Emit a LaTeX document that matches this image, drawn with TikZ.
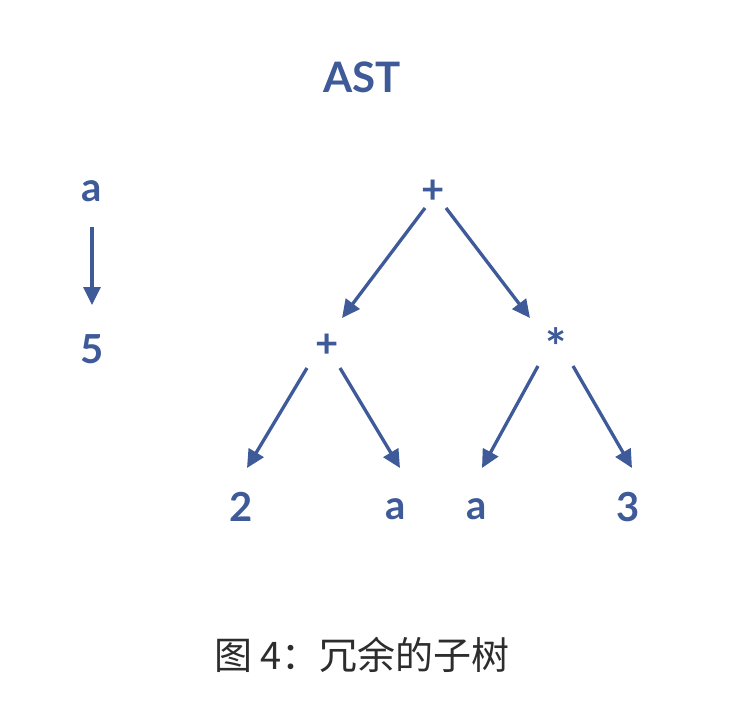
\documentclass[tikz,border=0pt]{standalone}
\usepackage{fontspec}
\setmainfont{Lato}
\newfontfamily\cjk{Noto Sans CJK SC}
\usetikzlibrary{arrows.meta,calc}
\definecolor{inkblue}{RGB}{62,90,152}
\definecolor{captiongray}{RGB}{45,45,45}
\tikzset{
  lbl/.style={text=inkblue,font=\bfseries\fontsize{40}{44}\selectfont,inner sep=0pt},
  arr/.style={draw=inkblue,line width=3.3pt,-{Triangle[length=18pt,width=17pt]}},
}
\begin{document}
\begin{tikzpicture}[x=1pt,y=-1pt]
\useasboundingbox[fill=white] (0,0) rectangle (733,702);
\node[lbl,font=\bfseries\fontsize{42}{46}\selectfont] (title) at (362,77) {AST};
\node[lbl] (va) at (92,191) {a};
\node[lbl] (v5) at (92,349) {5};
\node[lbl] (root) at (433,192) {+};
\node[lbl] (lp) at (327,346) {+};
\node[lbl,font=\bfseries\fontsize{50}{54}\selectfont] (st) at (556,347) {*};
\node[lbl] (n2) at (241,507) {2};
\node[lbl] (la) at (396,509) {a};
\node[lbl] (ra) at (477,509) {a};
\node[lbl] (n3) at (628,507) {3};
\node[text=captiongray,font=\cjk\fontsize{38}{42}\selectfont,inner sep=0pt] (cap) at (362,655) {图 4：冗余的子树};
\draw[arr] ([shift={(0,36)}]va.center) -- ([shift={(0,-44)}]v5.center);
\draw[arr] ([shift={(-8,16)}]root.center) -- ([shift={(15,-28)}]lp.center);
\draw[arr] ([shift={(13,16)}]root.center) -- ([shift={(-26,-29)}]st.center);
\draw[arr] ([shift={(-20,22)}]lp.center) -- ([shift={(6,-39)}]n2.center);
\draw[arr] ([shift={(13,22)}]lp.center) -- ([shift={(4,-41)}]la.center);
\draw[arr] ([shift={(-18,19)}]st.center) -- ([shift={(5,-41)}]ra.center);
\draw[arr] ([shift={(17,19)}]st.center) -- ([shift={(4,-39)}]n3.center);
\end{tikzpicture}
\end{document}
